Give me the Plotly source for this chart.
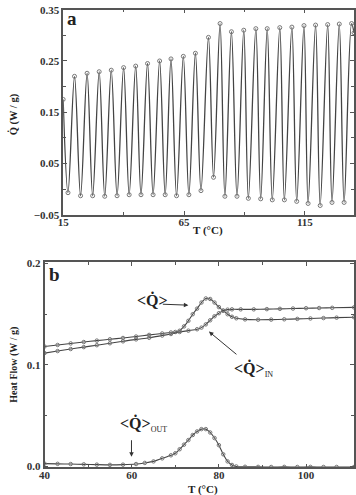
import plotly.graph_objects as go

# ---------------- Panel a: modulated heat flow (extrema) ----------------
a_T = [15.0, 17.0, 19.7, 22.2, 24.9, 27.2, 29.9, 32.2, 34.9, 37.3, 40.0, 42.3, 45.0, 47.2,
       49.9, 52.2, 54.9, 57.2, 59.6, 61.9, 64.7, 67.0, 69.7, 72.0, 75.1, 77.2, 79.9, 81.9,
       84.6, 86.9, 89.7, 91.6, 94.7, 96.7, 99.4, 101.5, 104.6, 106.5, 109.6, 111.6, 114.6,
       116.3, 119.4, 121.3, 124.4, 126.2, 129.2, 131.2, 134.3, 135.3]
a_Q = [0.175, -0.007, 0.220, -0.013, 0.226, -0.013, 0.229, -0.014, 0.232, -0.013, 0.237, -0.011,
       0.240, -0.011, 0.245, -0.011, 0.250, -0.011, 0.254, -0.013, 0.259, -0.011, 0.265, -0.003,
       0.296, 0.023, 0.323, -0.014, 0.307, -0.014, 0.310, -0.018, 0.313, -0.019, 0.313, -0.021,
       0.315, -0.021, 0.316, -0.024, 0.319, -0.028, 0.320, -0.032, 0.321, -0.026, 0.322, -0.026,
       0.323, 0.305]

a_xticks = [15, 65, 115]
a_xminor = [40, 90]
a_yticks = [-0.05, 0.05, 0.15, 0.25, 0.35]
a_ytext = ["\u22120.05", "0.05", "0.15", "0.25", "0.35"]
a_yminor = [0.0, 0.1, 0.2, 0.3]

# ---------------- Panel b: averaged heat flows ----------------
q_T = [40, 43, 46, 49, 52, 55, 58, 61, 64, 67, 69, 70, 71, 72, 73, 74, 75, 76, 77, 78, 79,
       80, 81, 82, 83, 84, 86, 89, 92, 95, 98, 101, 104, 107, 111]
q_V = [0.1182, 0.1197, 0.1212, 0.1226, 0.1240, 0.1253, 0.1266, 0.1280, 0.1296, 0.1310, 0.1320,
       0.1325, 0.1337, 0.1380, 0.1435, 0.1500, 0.1555, 0.1615, 0.1655, 0.1650, 0.1615, 0.1570,
       0.1535, 0.1500, 0.1475, 0.1460, 0.1449, 0.1446, 0.1447, 0.1450, 0.1454, 0.1458, 0.1462,
       0.1466, 0.1470]

qin_T = [40, 43, 46, 49, 52, 55, 58, 61, 64, 67, 69, 71, 73, 75, 76, 77, 78, 79, 80, 81, 82,
         83, 85, 88, 91, 94, 97, 100, 103, 106, 111]
qin_V = [0.1117, 0.1137, 0.1157, 0.1176, 0.1195, 0.1214, 0.1233, 0.1252, 0.1268, 0.1290, 0.1305,
         0.1325, 0.1338, 0.1352, 0.1368, 0.1400, 0.1440, 0.1480, 0.1510, 0.1535, 0.1545, 0.1548,
         0.1548, 0.1548, 0.1550, 0.1553, 0.1556, 0.1559, 0.1561, 0.1563, 0.1567]

qout_T = [40, 43, 46, 49, 52, 55, 58, 61, 63, 65, 67, 69, 70, 71, 72, 73, 74, 75, 76, 77, 78,
          79, 80, 81, 82, 83, 84, 86, 89, 92, 95, 98, 101, 104, 107, 111]
qout_V = [0.0028, 0.0026, 0.0024, 0.0021, 0.0018, 0.0016, 0.0018, 0.0024, 0.0035, 0.0050,
          0.0080, 0.0110, 0.0130, 0.0170, 0.0215, 0.0260, 0.0310, 0.0345, 0.0368, 0.0368, 0.0335,
          0.0280, 0.0210, 0.0120, 0.0050, 0.0015, 0.0000, -0.0003, -0.0004, -0.0005, -0.0004,
          -0.0005, -0.0004, -0.0005, -0.0005, -0.0005]

b_xticks = [40, 60, 80, 100]
b_xminor = [50, 70, 90]
b_yticks = [0.0, 0.1, 0.2]
b_ytext = ["0.0", "0.1", "0.2"]
b_yminor = [0.05, 0.15]

W, H = 356, 495
SERIF = "Liberation Serif"
FRAME = "#555555"
LINE = "#444444"
MARK = "#777777"

def px(x):
    return x / W

def py(y):
    return 1 - y / H

fig = go.Figure()

fig.add_trace(go.Scatter(x=a_T, y=a_Q, mode="lines+markers", xaxis="x", yaxis="y",
                         line=dict(color=LINE, width=1.3, shape="spline", smoothing=1.0),
                         marker=dict(symbol="circle-open", size=4, color=MARK, line=dict(width=1)),
                         showlegend=False, hoverinfo="skip"))

for T, V in [(q_T, q_V), (qin_T, qin_V), (qout_T, qout_V)]:
    fig.add_trace(go.Scatter(x=T, y=V, mode="lines+markers", xaxis="x2", yaxis="y2",
                             line=dict(color=LINE, width=1.1, shape="spline", smoothing=0.8),
                             marker=dict(symbol="circle-open", size=3.5, color=MARK, line=dict(width=1)),
                             showlegend=False, hoverinfo="skip"))

tickfont = dict(family=SERIF, size=11, color="#333333", weight="bold")

def axis_common():
    return dict(showline=True, linecolor=FRAME, linewidth=1.5, mirror="ticks", ticks="inside",
                ticklen=4, tickcolor=FRAME, tickwidth=1, showgrid=False, zeroline=False,
                tickfont=tickfont, fixedrange=True)

fig.update_layout(
    width=W, height=H, margin=dict(l=0, r=0, t=0, b=0),
    paper_bgcolor="white", plot_bgcolor="white",
    xaxis=dict(domain=[px(58.3), px(355)], range=[15, 135.3], anchor="y",
               tickvals=a_xticks, ticktext=[str(v) for v in a_xticks], ticklabelstandoff=-4,
               minor=dict(tickvals=a_xminor, ticks="inside", ticklen=3, tickcolor=FRAME),
               **axis_common()),
    yaxis=dict(domain=[py(214.5), py(4.8)], range=[-0.05, 0.35], anchor="x",
               tickvals=a_yticks, ticktext=a_ytext,
               minor=dict(tickvals=a_yminor, ticks="inside", ticklen=3, tickcolor=FRAME),
               **axis_common()),
    xaxis2=dict(domain=[px(39.3), px(355)], range=[40, 111], anchor="y2",
                tickvals=b_xticks, ticktext=[str(v) for v in b_xticks], ticklabelstandoff=-3,
                minor=dict(tickvals=b_xminor, ticks="inside", ticklen=3, tickcolor=FRAME),
                **axis_common()),
    yaxis2=dict(domain=[py(473), py(263.3)], range=[-0.001, 0.201], anchor="x2",
                tickvals=b_yticks, ticktext=b_ytext,
                minor=dict(tickvals=b_yminor, ticks="inside", ticklen=3, tickcolor=FRAME),
                **axis_common()),
)

ann = []
def text(x, y, s, size=11, angle=0, xanchor="center", yanchor="middle"):
    ann.append(dict(x=px(x), y=py(y), xref="paper", yref="paper", text=s, showarrow=False,
                    textangle=angle, xanchor=xanchor, yanchor=yanchor,
                    font=dict(family=SERIF, size=size, color="#222222")))

def arrow(x0, y0, x1, y1):
    ann.append(dict(x=px(x1), y=py(y1), xref="paper", yref="paper", ax=x0 - x1, ay=y0 - y1,
                    axref="pixel", ayref="pixel", text="", showarrow=True, arrowhead=2,
                    arrowsize=0.9, arrowwidth=1, arrowcolor="#333333"))

SUB = "<sub><span style='font-size:8px'>%s</span></sub>"

# panel labels
text(67.5, 14, "<b>a</b>", size=19)
text(49, 276, "<b>b</b>", size=19)
# axis titles
text(206, 231, "<b>T (\u00b0C)</b>", size=11)
text(8, 112, "<b>Q\u0307 (W / g)</b>", size=10.5, angle=-90)
text(201, 487, "<b>T (\u00b0C)</b>", size=11, yanchor="top")
text(8, 368, "<b>Heat Flow (W / g)</b>", size=10, angle=-90)
# curve labels
text(132, 302, "<b>&lt;Q\u0307&gt;</b>", size=16, xanchor="left")
arrow(159, 306, 186, 307)
text(231, 372, "<b>&lt;Q\u0307&gt;</b>" + SUB % "IN", size=16, xanchor="left")
arrow(236, 358, 207, 334)
text(114, 429, "<b>&lt;Q\u0307&gt;</b>" + SUB % "OUT", size=16, xanchor="left")
arrow(128, 444, 128, 462)

fig.update_layout(annotations=ann)
fig.write_html("out.html")
